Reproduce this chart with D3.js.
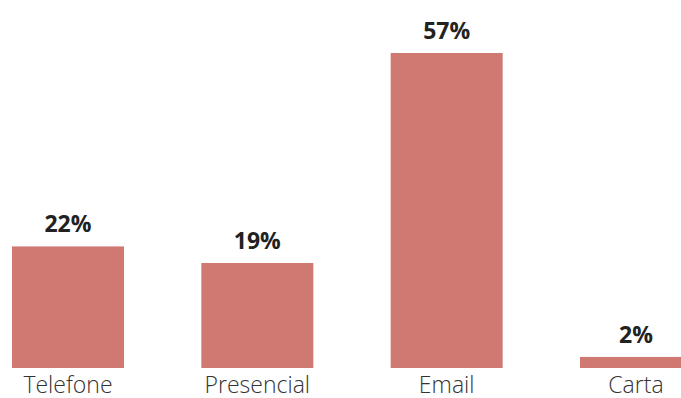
<!DOCTYPE html>
<html>
<head>
<meta charset="utf-8">
<script src="https://cdn.jsdelivr.net/npm/d3@7"></script>
<style>
  body { margin: 0; background: #fff; }
  svg { display: block; font-family: "Open Sans", sans-serif; }
</style>
</head>
<body>
<svg id="chart" width="681" height="398"></svg>
<script>
const categories = ["Telefone", "Presencial", "Email", "Carta"];
const values = [22, 19, 57, 2];
const labels = ["22%", "19%", "57%", "2%"];

const svg = d3.select("#chart");

// bars run past the right edge a bit, like the original
const x = d3.scaleBand()
    .domain(categories)
    .range([12, 692])
    .paddingInner(0.4085)
    .paddingOuter(0);

const y = d3.scaleLinear()
    .domain([0, 57])
    .range([368, 53]);

svg.selectAll("rect.bar")
    .data(values)
    .join("rect")
    .attr("class", "bar")
    .attr("x", (d, i) => x(categories[i]))
    .attr("y", d => y(d))
    .attr("width", x.bandwidth())
    .attr("height", d => y(0) - y(d))
    .attr("fill", "#D07872");

svg.selectAll("text.value")
    .data(values)
    .join("text")
    .attr("class", "value")
    .attr("x", (d, i) => x(categories[i]) + x.bandwidth() / 2)
    .attr("y", d => y(d) - 14)
    .attr("text-anchor", "middle")
    .attr("font-size", 23)
    .attr("font-weight", "bold")
    .attr("fill", "#222")
    .text((d, i) => labels[i]);

svg.selectAll("text.cat")
    .data(categories)
    .join("text")
    .attr("class", "cat")
    .attr("x", d => x(d) + x.bandwidth() / 2)
    .attr("y", 393)
    .attr("text-anchor", "middle")
    .attr("font-size", 23)
    .attr("font-weight", 300)
    .attr("fill", "#333")
    .text(d => d);
</script>
</body>
</html>
